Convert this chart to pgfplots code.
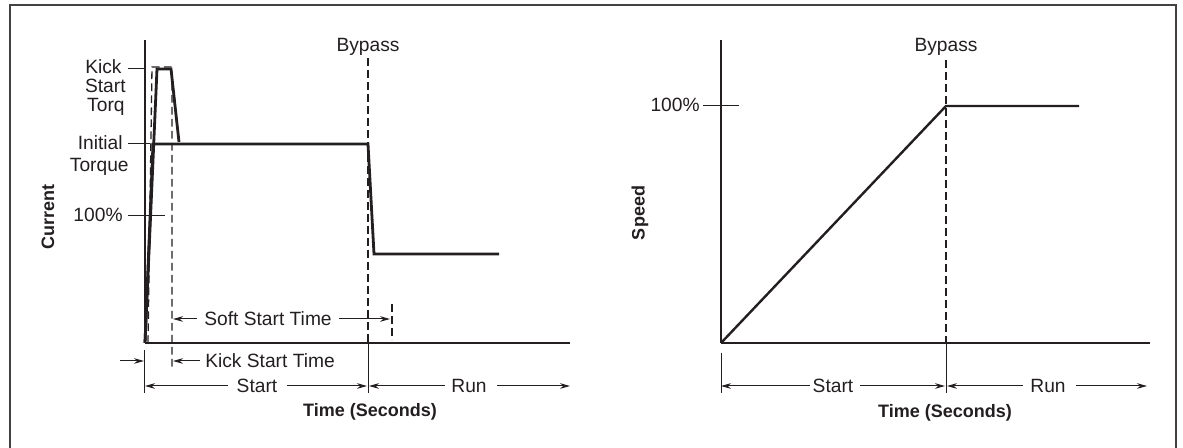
\documentclass[border=0pt]{standalone}
\usepackage{pgfplots}
\pgfplotsset{compat=1.18}
\usepackage{fontspec}
\setmainfont{Liberation Sans}
\usetikzlibrary{arrows.meta}
\definecolor{ink}{HTML}{231F20}
\tikzset{
  arr/.style={-{Stealth[length=5pt,width=2.8pt]}, line width=0.5pt, draw=ink},
  dsh/.style={dash pattern=on 3.8pt off 2.2pt, line width=0.65pt, draw=ink},
  thin/.style={line width=0.5pt, draw=ink},
  lab/.style={inner sep=0pt, text=ink},
  blab/.style={inner sep=0pt, text=ink, font=\fontsize{9}{10}\selectfont\bfseries},
}
\pgfplotsset{
  schem/.style={
    anchor=south west, scale only axis, height=151.5pt,
    ymin=0, ymax=303, axis lines=left,
    axis line style={-, line width=0.55pt, draw=ink},
    xtick=\empty, ytick=\empty, clip=false,
  }
}
\begin{document}
\begin{tikzpicture}[x=0.5pt,y=0.5pt, font=\fontsize{9.6}{11}\selectfont]
\path[use as bounding box] (0,0) rectangle (1183,448);
\draw[line width=0.75pt, draw=ink!85] (10,0) -- (10,443) -- (1176,443) -- (1176,0);

% ---------------- Left: Current ----------------
\begin{axis}[schem, at={(72.5pt,52.5pt)}, width=212.5pt, xmin=0, xmax=425]
\addplot[draw=ink, line width=1.4pt] coordinates {(0,0) (12,274) (26,274) (34,201)};
\addplot[draw=ink, line width=1.4pt] coordinates {(0,0) (8,199) (223,199) (229,89) (354,89)};
\addplot[dsh] coordinates {(3,0) (7,276) (27,276) (27,-24)};
\addplot[dsh] coordinates {(223,285) (223,0)};
\draw[thin] (223,0) -- (223,-50);
\draw[thin] (0,-7) -- (0,-50);
% ticks
\draw[thin] (-17,274) -- (0,274);
\draw[thin] (-17,199) -- (5,199);
\draw[thin] (-17,127) -- (20,127);
\node[lab, anchor=base east] at (-23,269) {Kick};
\node[lab, anchor=base east] at (-19,250) {Start};
\node[lab, anchor=base east] at (-20,231) {Torq};
\node[lab, anchor=base east] at (-22,193) {Initial};
\node[lab, anchor=base east] at (-16,171) {Torque};
\node[lab, anchor=base east] at (-22,121) {100\%};
\node[lab, anchor=base] at (223,291) {Bypass};
\node[blab, rotate=90] at (-97,126) {Current};
% soft start time
\draw[arr] (52,24) -- (28,24);
\node[lab] at (123,24) {Soft Start Time};
\draw[arr] (194,24) -- (245,24);
\draw[dsh] (247,39) -- (247,3);
% kick start time
\draw[arr] (-25,-18) -- (-1,-18);
\draw[arr] (55,-18) -- (28,-18);
\node[lab] at (125,-18) {Kick Start Time};
% start / run
\draw[arr] (83,-43) -- (0,-43);
\node[lab] at (112,-43) {Start};
\draw[arr] (142,-43) -- (222,-43);
\draw[arr] (300,-43) -- (224,-43);
\node[lab] at (324,-43) {Run};
\draw[arr] (352,-43) -- (425,-43);
\node[blab] at (225,-69) {Time (Seconds)};
\end{axis}

% ---------------- Right: Speed ----------------
\begin{axis}[schem, at={(360.5pt,52.5pt)}, width=214.5pt, xmin=0, xmax=429]
\addplot[draw=ink, line width=1.2pt] coordinates {(0,0) (225,237) (358,237)};
\addplot[dsh] coordinates {(225,283) (225,0)};
\draw[thin] (225,0) -- (225,-50);
\draw[thin] (0,-10) -- (0,-50);
\draw[thin] (-18,237) -- (18,237);
\node[lab, anchor=base east] at (-21,231) {100\%};
\node[lab, anchor=base] at (225,291) {Bypass};
\node[blab, rotate=90] at (-81,130) {Speed};
\draw[arr] (89,-43) -- (0,-43);
\node[lab] at (112,-43) {Start};
\draw[arr] (139,-43) -- (224,-43);
\draw[arr] (302,-43) -- (226,-43);
\node[lab] at (327,-43) {Run};
\draw[arr] (355,-43) -- (426,-43);
\node[blab] at (224,-70) {Time (Seconds)};
\end{axis}
\end{tikzpicture}
\end{document}
